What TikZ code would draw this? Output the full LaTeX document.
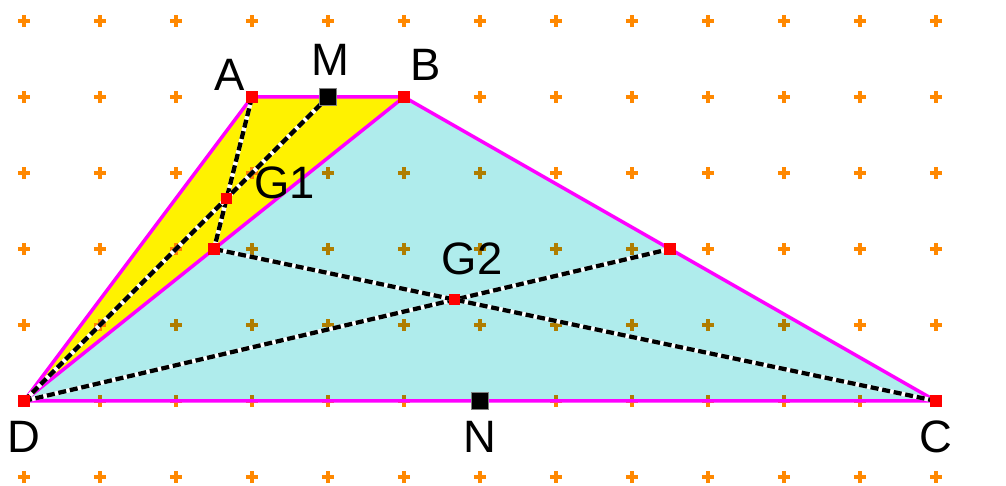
\documentclass[tikz,border=0pt]{standalone}
\usepackage{fontspec}
\setmainfont{Liberation Sans}
\definecolor{gridorange}{RGB}{255,136,0}
\definecolor{paleblue}{RGB}{175,236,236}
\definecolor{pink}{RGB}{255,0,255}
\begin{document}
\begin{tikzpicture}[
		pt/.style={rectangle, fill=red, inner sep=0pt, minimum size=4.2pt},
		midpt/.style={rectangle, fill=black, draw=gray, line width=0.2pt, inner sep=0pt, minimum size=6.2pt},
		lbl/.style={font=\fontsize{17}{20}\selectfont},
		side/.style={pink, line width=1.3pt, line join=round},
		median/.style={black, line width=1.6pt, dash pattern=on 3pt off 1.4pt,
			preaction={draw, white, solid, line width=1.6pt}},
		cross/.style={gridorange, line width=1.5pt}
	]
		\useasboundingbox (-0.316,-1.118) rectangle (12.921,5.276);
		
		% Points
		\coordinate (D) at (0,0);
		\coordinate (C) at (12,0);
		\coordinate (A) at (3,4);
		\coordinate (B) at (5,4);
		\coordinate (M) at (4,4);
		\coordinate (N) at (6,0);
		\coordinate (E) at (2.5,2);
		\coordinate (F) at (8.5,2);
		\coordinate (G1) at (8/3,8/3);
		\coordinate (G2) at (17/3,4/3);
		
		% Triangles
		\fill[yellow] (A) -- (B) -- (D) -- cycle;
		\fill[paleblue] (B) -- (C) -- (D) -- cycle;
		
		% Grid
		\begin{scope}[blend mode=multiply]
			\foreach \x in {0,...,12}
				\foreach \y in {-1,...,5}
					\draw[cross] (\x,\y) +(-0.08,0) -- +(0.08,0) (\x,\y) +(0,-0.08) -- +(0,0.08);
		\end{scope}
		
		% Sides
		\draw[side] (D) -- (A) -- (B) -- (C) -- cycle;
		\draw[side] (B) -- (D);
		
		% Medians
		\draw[median] (A) -- (E);
		\draw[median] (D) -- (M);
		\draw[median] (D) -- (F);
		\draw[median] (C) -- (E);
		
		% Marks
		\foreach \p in {A,B,C,D,E,F,G1,G2}
			\node[pt] (p\p) at (\p) {};
		\node[midpt] (pM) at (M) {};
		\node[midpt] (pN) at (N) {};
		
		% Labels
		\node[lbl] (lA) at ([shift={(-0.29,0.29)}]A) {A};
		\node[lbl] (lM) at ([shift={(0.03,0.49)}]M) {M};
		\node[lbl] (lB) at ([shift={(0.28,0.42)}]B) {B};
		\node[lbl] (lG1) at ([shift={(0.76,0.2)}]G1) {G1};
		\node[lbl] (lG2) at ([shift={(0.23,0.53)}]G2) {G2};
		\node[lbl] (lD) at ([shift={(0,-0.47)}]D) {D};
		\node[lbl] (lN) at ([shift={(0,-0.47)}]N) {N};
		\node[lbl] (lC) at ([shift={(0,-0.47)}]C) {C};
	\end{tikzpicture}
\end{document}
